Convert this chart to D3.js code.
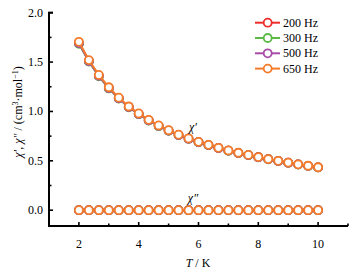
<!DOCTYPE html>
<html>
<head>
<meta charset="utf-8">
<script src="https://cdn.jsdelivr.net/npm/d3@7"></script>
<style>
  body { margin: 0; background: #fff; }
  text { font-family: "Liberation Serif", "DejaVu Serif", serif !important; }
</style>
</head>
<body>
<div id="chart"></div>
<script>
// temperatures, K
var temps = [2, 2.333, 2.667, 3, 3.333, 3.667, 4, 4.333, 4.667, 5, 5.333, 5.667, 6,
             6.333, 6.667, 7, 7.333, 7.667, 8, 8.333, 8.667, 9, 9.333, 9.667, 10];

var freqs = ["200 Hz", "300 Hz", "500 Hz", "650 Hz"];
var colors = ["#ee2c2c", "#5cb946", "#a84ca8", "#f47b2a"];

// chi' (in-phase) per frequency
var chi1_200 = [1.69, 1.51, 1.36, 1.237, 1.133, 1.045, 0.975, 0.91, 0.853, 0.806, 0.762, 0.724, 0.69,
                0.66, 0.63, 0.603, 0.58, 0.558, 0.537, 0.517, 0.499, 0.481, 0.464, 0.449, 0.434];
var chi1_300 = [1.685, 1.505, 1.355, 1.233, 1.13, 1.042, 0.972, 0.907, 0.851, 0.804, 0.76, 0.722, 0.688,
                0.658, 0.629, 0.602, 0.579, 0.557, 0.536, 0.516, 0.498, 0.48, 0.463, 0.448, 0.433];
var chi1_500 = [1.692, 1.51, 1.36, 1.237, 1.134, 1.045, 0.975, 0.91, 0.854, 0.806, 0.762, 0.724, 0.69,
                0.66, 0.63, 0.603, 0.58, 0.558, 0.537, 0.517, 0.499, 0.481, 0.464, 0.449, 0.434];
var chi1_650 = [1.705, 1.52, 1.37, 1.245, 1.14, 1.05, 0.98, 0.915, 0.858, 0.81, 0.765, 0.727, 0.692,
                0.662, 0.632, 0.605, 0.582, 0.56, 0.538, 0.518, 0.5, 0.482, 0.465, 0.45, 0.435];

// chi'' (out-of-phase), zero for all frequencies
var chi2_all = [0, 0, 0, 0, 0, 0, 0, 0, 0, 0, 0, 0, 0, 0, 0, 0, 0, 0, 0, 0, 0, 0, 0, 0, 0];

var xTicks = [2, 4, 6, 8, 10];
var yTicks = [0, 0.5, 1, 1.5, 2];

var chi1 = [chi1_200, chi1_300, chi1_500, chi1_650];

var width = 359, height = 272;
var svg = d3.select("#chart").append("svg")
    .attr("width", width)
    .attr("height", height);

var x = d3.scaleLinear().domain([1, 11]).range([49, 348]);
var y = d3.scaleLinear().domain([-0.16, 2]).range([226, 12.7]);

// axes
var xAxis = svg.append("g").attr("transform", "translate(0," + y(-0.16) + ")");
xAxis.append("line")
    .attr("x1", x(1) - 1).attr("x2", x(11))
    .attr("stroke", "#000").attr("stroke-width", 2);
xAxis.selectAll(".minor").data(d3.range(1, 12, 1)).enter().append("line")
    .attr("x1", function (d) { return x(d); }).attr("x2", function (d) { return x(d); })
    .attr("y1", 0).attr("y2", function (d) { return d % 2 === 0 ? -4 : -2.5; })
    .attr("stroke", "#000").attr("stroke-width", 1.6);
xAxis.selectAll(".lbl").data(xTicks).enter().append("text")
    .attr("x", function (d) { return x(d); })
    .attr("y", 22)
    .attr("text-anchor", "middle")
    .style("font-size", "12px")
    .text(function (d) { return d; });

var yAxis = svg.append("g").attr("transform", "translate(" + x(1) + ",0)");
yAxis.append("line")
    .attr("y1", y(2)).attr("y2", y(-0.16))
    .attr("stroke", "#000").attr("stroke-width", 2);
yAxis.selectAll(".minor").data(d3.range(0, 2.01, 0.25)).enter().append("line")
    .attr("y1", function (d) { return y(d); }).attr("y2", function (d) { return y(d); })
    .attr("x1", 0).attr("x2", function (d, i) { return i % 2 === 0 ? 4 : 2.5; })
    .attr("stroke", "#000").attr("stroke-width", 1.6);
yAxis.append("line")
    .attr("y1", y(2)).attr("y2", y(2))
    .attr("x1", -1).attr("x2", 4)
    .attr("stroke", "#000").attr("stroke-width", 2);
yAxis.selectAll(".lbl").data(yTicks).enter().append("text")
    .attr("x", -6)
    .attr("y", function (d) { return y(d) + 4; })
    .attr("text-anchor", "end")
    .style("font-size", "12px")
    .text(function (d) { return d3.format(".1f")(d); });

// axis titles
var xt = svg.append("text")
    .attr("x", 198).attr("y", 267)
    .attr("text-anchor", "middle")
    .style("font-size", "12px");
xt.append("tspan").style("font-style", "italic").text("T");
xt.append("tspan").text(" / K");

var yt = svg.append("text")
    .attr("transform", "translate(22,112) rotate(-90)")
    .attr("text-anchor", "middle")
    .style("font-size", "12px");
yt.append("tspan").style("font-style", "italic").text("χ′");
yt.append("tspan").text(", ");
yt.append("tspan").style("font-style", "italic").text("χ″");
yt.append("tspan").text(" / (cm");
yt.append("tspan").attr("dy", -4).style("font-size", "8px").text("3");
yt.append("tspan").attr("dy", 4).text("·mol");
yt.append("tspan").attr("dy", -4).style("font-size", "8px").text("−1");
yt.append("tspan").attr("dy", 4).text(")");

// series
var line = d3.line()
    .x(function (d) { return x(d[0]); })
    .y(function (d) { return y(d[1]); });

freqs.forEach(function (f, k) {
    var pts1 = temps.map(function (t, i) { return [t, chi1[k][i]]; });
    var pts2 = temps.map(function (t, i) { return [t, chi2_all[i]]; });
    [pts1, pts2].forEach(function (pts) {
        var g = svg.append("g");
        g.append("path")
            .attr("d", line(pts))
            .attr("fill", "none")
            .attr("stroke", colors[k])
            .attr("stroke-width", 2);
        g.selectAll("circle").data(pts).enter().append("circle")
            .attr("cx", function (d) { return x(d[0]); })
            .attr("cy", function (d) { return y(d[1]); })
            .attr("r", 4)
            .attr("fill", "#fff")
            .attr("stroke", colors[k])
            .attr("stroke-width", 1.8);
    });
});

// curve labels
svg.append("text")
    .attr("x", 193).attr("y", 131)
    .attr("text-anchor", "middle")
    .style("font-size", "12px").style("font-style", "italic")
    .text("χ′");
svg.append("text")
    .attr("x", 193).attr("y", 202)
    .attr("text-anchor", "middle")
    .style("font-size", "12px").style("font-style", "italic")
    .text("χ″");

// legend
var legend = svg.append("g");
freqs.forEach(function (f, k) {
    var ly = 22.7 + k * 15.3;
    legend.append("line")
        .attr("x1", 255).attr("x2", 280)
        .attr("y1", ly).attr("y2", ly)
        .attr("stroke", colors[k]).attr("stroke-width", 2);
    legend.append("circle")
        .attr("cx", 267.7).attr("cy", ly).attr("r", 4)
        .attr("fill", "#fff").attr("stroke", colors[k]).attr("stroke-width", 1.8);
    legend.append("text")
        .attr("x", 283).attr("y", ly + 4)
        .style("font-size", "12px")
        .text(f);
});
</script>
</body>
</html>
